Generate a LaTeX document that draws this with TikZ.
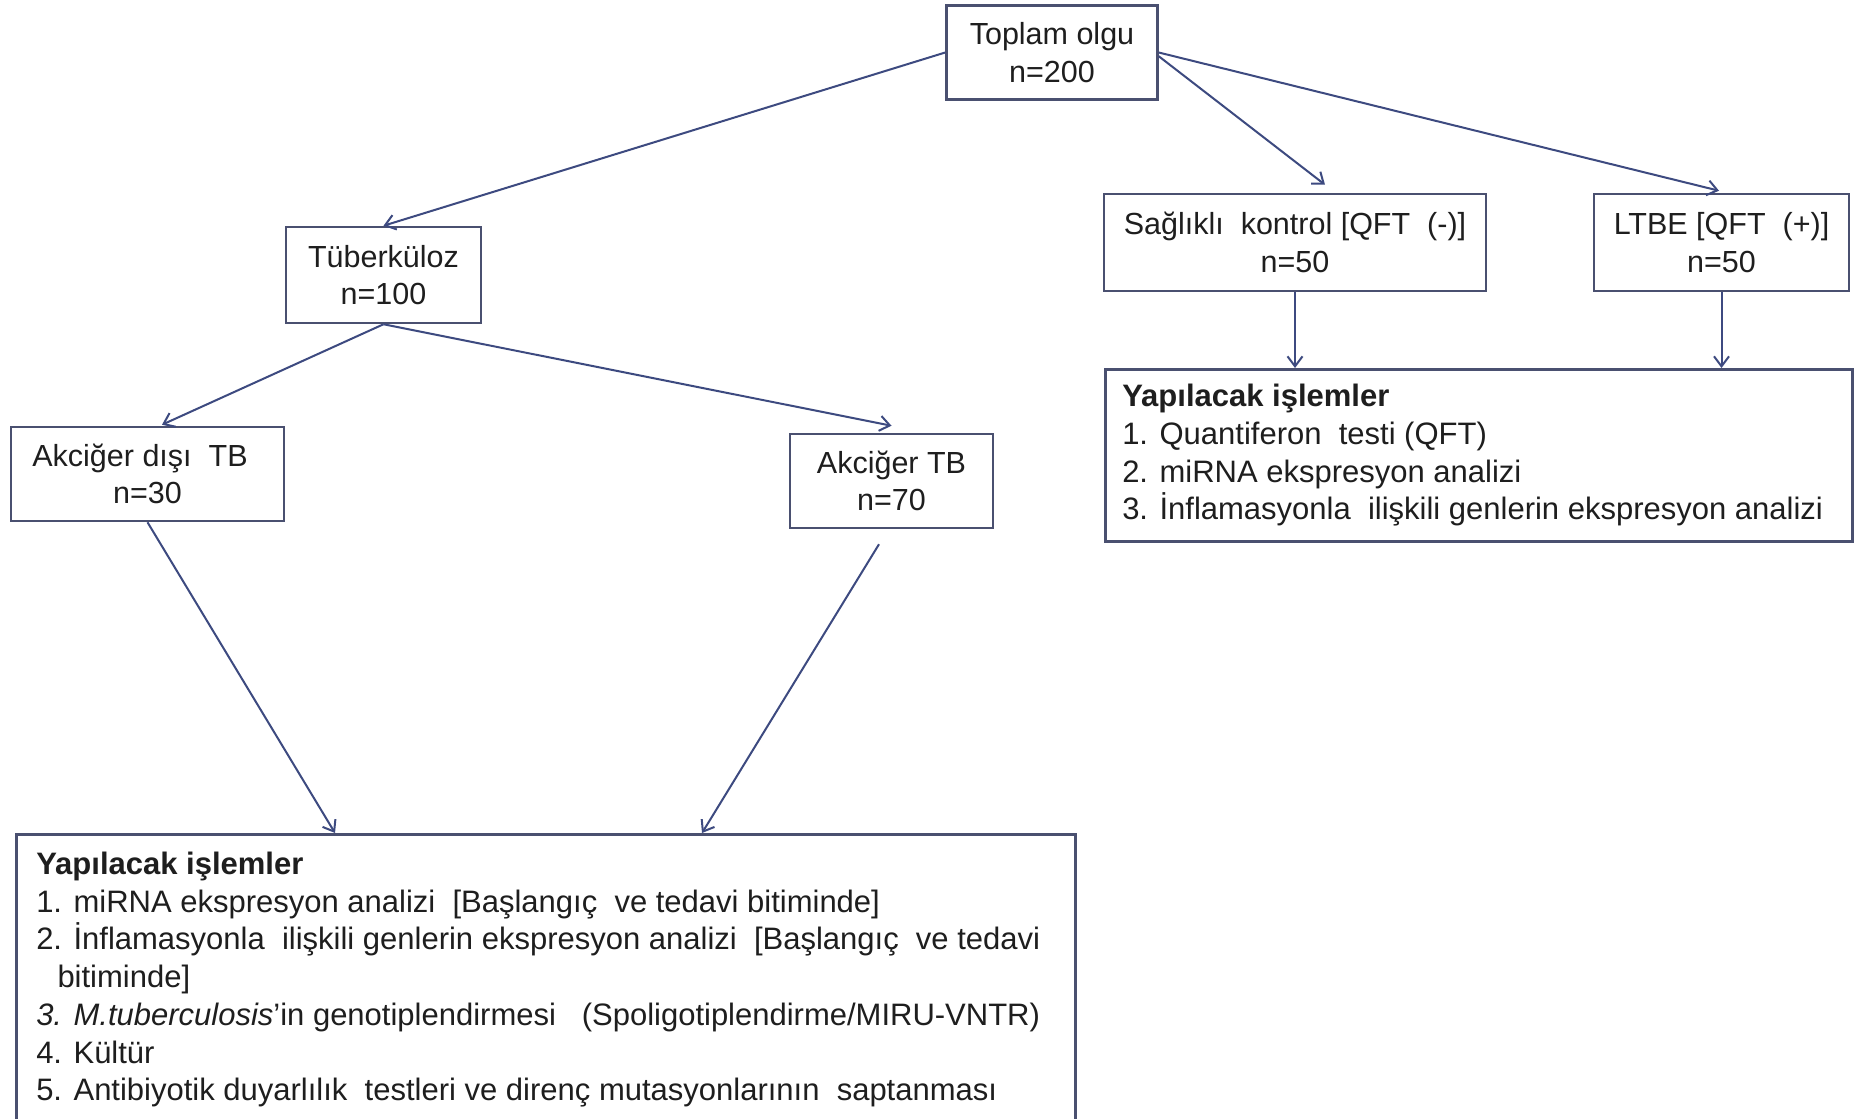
\documentclass[tikz,border=0pt]{standalone}
\usepackage{fontspec}
\setmainfont{Liberation Sans}
\usetikzlibrary{arrows.meta,calc}
\definecolor{boxc}{HTML}{4A5070}
\definecolor{arrc}{HTML}{3D4A80}
\definecolor{txtc}{HTML}{1E1E1E}
\begin{document}
\begin{tikzpicture}[x=0.4pt,y=-0.4pt,
  box/.style={draw=boxc,line width=1pt,rectangle,inner sep=0pt,align=center,text=txtc,font=\fontsize{12.2}{15.1}\selectfont},
  listbox/.style={draw=boxc,line width=1pt,rectangle,inner ysep=0pt,align=flush left,text=txtc,font=\fontsize{12.4}{15.1}\selectfont,anchor=north west},
  conn/.style={draw=arrc,line width=0.8pt,-{Straight Barb[length=4pt,width=6pt]}},
]
\useasboundingbox (0,0) rectangle (1855,1119);
\clip (0,0) rectangle (1855,1119);
\fill[white] (0,0) rectangle (1855,1119);

\node[box,minimum width=84.4pt,minimum height=37.6pt] (top) at (1052,52.5) {Toplam olgu\\n=200};
\node[box,minimum width=78pt,minimum height=38.4pt] (tub) at (383.5,275) {Tüberküloz\\n=100};
\node[box,minimum width=152.8pt,minimum height=38.8pt] (sag) at (1295,242.5) {Sağlıklı\ \ kontrol [QFT\ \ (-)]\\n=50};
\node[box,minimum width=102pt,minimum height=38.8pt] (ltbe) at (1721.5,242.5) {LTBE [QFT\ \ (+)]\\n=50};
\node[box,minimum width=109.2pt,minimum height=37.6pt] (adis) at (147.5,474) {Akciğer dışı\ \ TB\hspace*{6pt}\\n=30};
\node[box,minimum width=81.2pt,minimum height=37.6pt] (akc) at (891.5,481) {Akciğer TB\\n=70};

\node[listbox,inner xsep=6.8pt,text width=285.2pt,minimum height=68.8pt] (ryap) at (1104,368)
  {\textbf{Yapılacak işlemler}\\
   1. Quantiferon\ \ testi (QFT)\\
   2. miRNA ekspresyon analizi\\
   3. İnflamasyonla\ \ ilişkili genlerin ekspresyon analizi};

\node[listbox,inner xsep=8pt,text width=407.6pt,minimum height=116.4pt] (byap) at (15,833)
  {\textbf{Yapılacak işlemler}\\
   1. miRNA ekspresyon analizi\ \ [Başlangıç\ \ ve tedavi bitiminde]\\
   2. İnflamasyonla\ \ ilişkili genlerin ekspresyon analizi\ \ [Başlangıç\ \ ve tedavi\\
   \hspace*{8.5pt}bitiminde]\\
   \textit{3. M.tuberculosis}’in genotiplendirmesi\ \ \ (Spoligotiplendirme/MIRU-VNTR)\\
   4. Kültür\\
   5. Antibiyotik duyarlılık\ \ testleri ve direnç mutasyonlarının\ \ saptanması};

\draw[conn] (top.west) -- (tub.north);
\draw[conn] ([yshift=-1.5pt]top.east) -- ([xshift=12pt,yshift=3.2pt]sag.north);
\draw[conn] (top.east) -- ([xshift=-1pt,yshift=0.8pt]ltbe.north);
\draw[conn] (tub.south) -- ([xshift=5.8pt,yshift=0.4pt]adis.north);
\draw[conn] (tub.south) -- ([yshift=2.8pt]akc.north);
\draw[conn] (adis.south) -- ([xshift=128pt]byap.north west);
\draw[conn] ([xshift=-5pt,yshift=-6pt]akc.south) -- ([xshift=274.8pt]byap.north west);
\draw[conn] (sag.south) -- (sag.south |- ryap.north);
\draw[conn] (ltbe.south) -- (ltbe.south |- ryap.north);
\end{tikzpicture}
\end{document}
